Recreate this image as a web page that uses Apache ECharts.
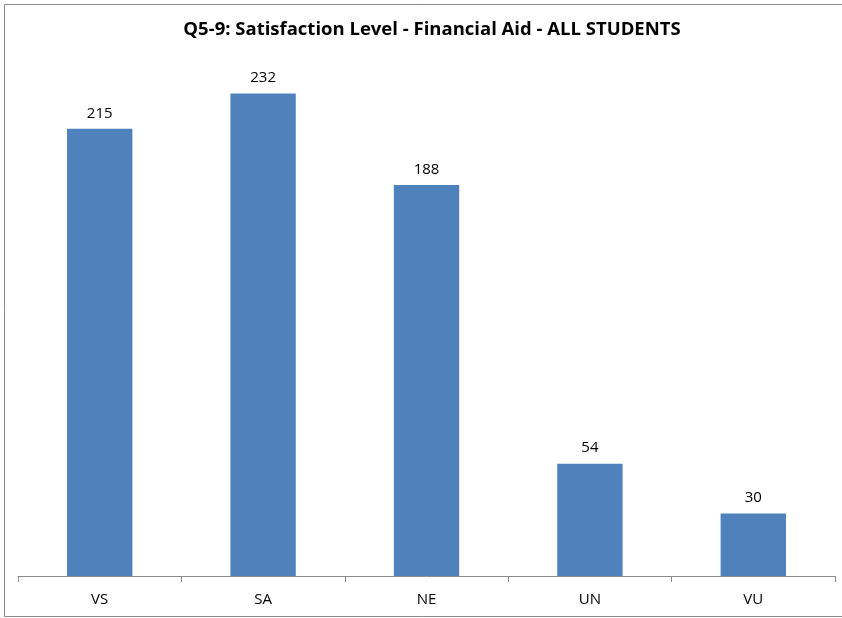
<!DOCTYPE html>
<html>
<head>
<meta charset="utf-8">
<script src="https://cdn.jsdelivr.net/npm/echarts@6/dist/echarts.min.js"></script>
<style>html,body{margin:0;padding:0;background:#fff;}#c{width:842px;height:618px;}</style>
</head>
<body>
<div id="c"></div>
<script>
const titleText = "Q5-9: Satisfaction Level - Financial Aid - ALL STUDENTS";
const categories = ["VS", "SA", "NE", "UN", "VU"];
const counts = [215, 232, 188, 54, 30];

const chart = echarts.init(document.getElementById('c'), null, {renderer: 'canvas'});
chart.setOption({
  backgroundColor: '#ffffff',
  animation: false,
  title: {
    text: titleText,
    left: 427,
    textAlign: 'center',
    top: 15,
    textStyle: {fontFamily: 'Open Sans', fontWeight: 'bold', fontSize: 18.5, color: '#000'}
  },
  graphic: [{
    type: 'rect',
    shape: {x: 4.5, y: 4.5, width: 845, height: 612},
    style: {fill: 'none', stroke: '#8c8c8c', lineWidth: 1},
    silent: true
  }],
  grid: {left: 18, right: 7, top: 56, bottom: 42, containLabel: false},
  xAxis: {
    type: 'category',
    data: categories,
    axisLine: {lineStyle: {color: '#8c8c8c', width: 1}},
    axisTick: {show: true, length: 6, lineStyle: {color: '#8c8c8c'}},
    axisLabel: {color: '#000', fontFamily: 'Open Sans', fontSize: 15, margin: 16}
  },
  yAxis: {
    type: 'value', min: 0, max: 250, show: false,
    splitLine: {show: false}
  },
  series: [{
    type: 'bar',
    data: counts,
    barWidth: '40%',
    itemStyle: {color: '#4F81BD'},
    label: {show: true, position: 'top', distance: 8, color: '#000', fontFamily: 'Open Sans', fontSize: 15}
  }]
});
</script>
</body>
</html>
